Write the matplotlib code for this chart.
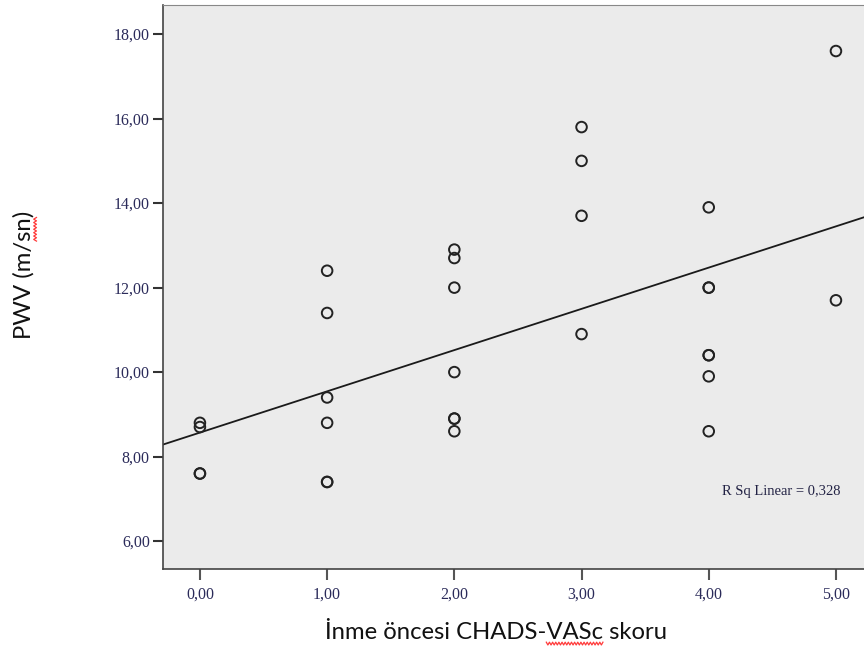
import numpy as np
import matplotlib
matplotlib.use("Agg")
import matplotlib.pyplot as plt
from matplotlib.lines import Line2D
from matplotlib.transforms import IdentityTransform

# CHADS-VASc skoru ve PWV (m/sn) değerleri
chads_vasc = [0, 0, 0, 0,
              1, 1, 1, 1, 1, 1,
              2, 2, 2, 2, 2, 2, 2,
              3, 3, 3, 3,
              4, 4, 4, 4, 4, 4, 4,
              5, 5]
pwv = [8.8, 8.7, 7.6, 7.6,
       12.4, 11.4, 9.4, 8.8, 7.4, 7.4,
       12.9, 12.7, 12.0, 10.0, 8.9, 8.9, 8.6,
       15.8, 15.0, 13.7, 10.9,
       13.9, 12.0, 12.0, 10.4, 10.4, 9.9, 8.6,
       17.6, 11.7]

x_ticks = [0, 1, 2, 3, 4, 5]
y_ticks = [6, 8, 10, 12, 14, 16, 18]
r_sq_text = "R Sq Linear = 0,328"
x_label = "İnme öncesi CHADS-VASc skoru"
y_label = "PWV (m/sn)"


def comma_fmt(v):
    return f"{v:.2f}".replace(".", ",")


fig = plt.figure(figsize=(8.64, 6.55), dpi=100)
ax = fig.add_axes([0.1887, 0.1313, 0.823, 0.8611])
ax.set_facecolor("#ebebeb")

x = np.array(chads_vasc, dtype=float)
y = np.array(pwv, dtype=float)

ax.scatter(x, y, s=58, facecolors="none", edgecolors="#222222",
           linewidths=1.4, zorder=3)

# doğrusal uyum
slope, intercept = np.polyfit(x, y, 1)
xl = np.array([-0.5, 6.0])
ax.plot(xl, intercept + slope * xl, color="#1a1a1a", lw=1.3, zorder=2)

ax.set_xlim(-0.29, 5.3)
ax.set_ylim(5.34, 18.69)

tick_font = dict(family="Liberation Serif", size=11.5, color="#2b2b5a")
ax.set_xticks(x_ticks)
ax.set_xticklabels([comma_fmt(v) for v in x_ticks], fontdict=tick_font)
ax.set_yticks(y_ticks)
ax.set_yticklabels([comma_fmt(v) for v in y_ticks], fontdict=tick_font)
ax.tick_params(axis="x", direction="out", length=8, width=1.5,
               color="#555555", pad=5)
ax.tick_params(axis="y", direction="out", length=7.5, width=1.5,
               color="#333333", pad=2)

for side in ["left", "bottom"]:
    ax.spines[side].set_color("#444444")
    ax.spines[side].set_linewidth(1.2)
ax.spines["top"].set_color("#888888")
ax.spines["right"].set_visible(False)

ax.text(0.869, 0.137, r_sq_text, transform=ax.transAxes,
        family="Liberation Serif", size=10.5, color="#222244",
        ha="center", va="center")

# eksen başlıkları (SPSS/Word görünümü)
xt = fig.text(0.574, 0.035, x_label, family="Lato", size=17.2,
              color="#111111", ha="center", va="center")
yt = fig.text(0.027, 0.58, y_label, family="Lato", size=17.2,
              color="#111111", ha="center", va="center", rotation=90)

# yazım denetimi kırmızı dalgalı çizgileri
fig.canvas.draw()
rend = fig.canvas.get_renderer()


def text_w(txt, s):
    w, _, _ = rend.get_text_width_height_descent(s, txt.get_fontproperties(),
                                                 ismath=False)
    return w


def squiggle(p0, p1, base, vertical=False):
    n = max(int(abs(p1 - p0) / 1.5), 2)
    t = np.linspace(p0, p1, n)
    wave = base + 1.4 * np.where(np.arange(n) % 2 == 0, 1, -1)
    if vertical:
        xs, ys = wave, t
    else:
        xs, ys = t, wave
    fig.add_artist(Line2D(xs, ys, transform=IdentityTransform(),
                          color="#ff3b3b", lw=0.9))


bb = xt.get_window_extent(rend)
a = bb.x0 + text_w(xt, "İnme öncesi CHADS-")
b = bb.x0 + text_w(xt, "İnme öncesi CHADS-VASc")
squiggle(a, b, bb.y0 - 1)

bb = yt.get_window_extent(rend)
a = bb.y0 + text_w(yt, "PWV (m/")
b = bb.y0 + text_w(yt, "PWV (m/sn")
squiggle(a, b, bb.x1 + 1, vertical=True)

fig.savefig("out.png", dpi=100)
